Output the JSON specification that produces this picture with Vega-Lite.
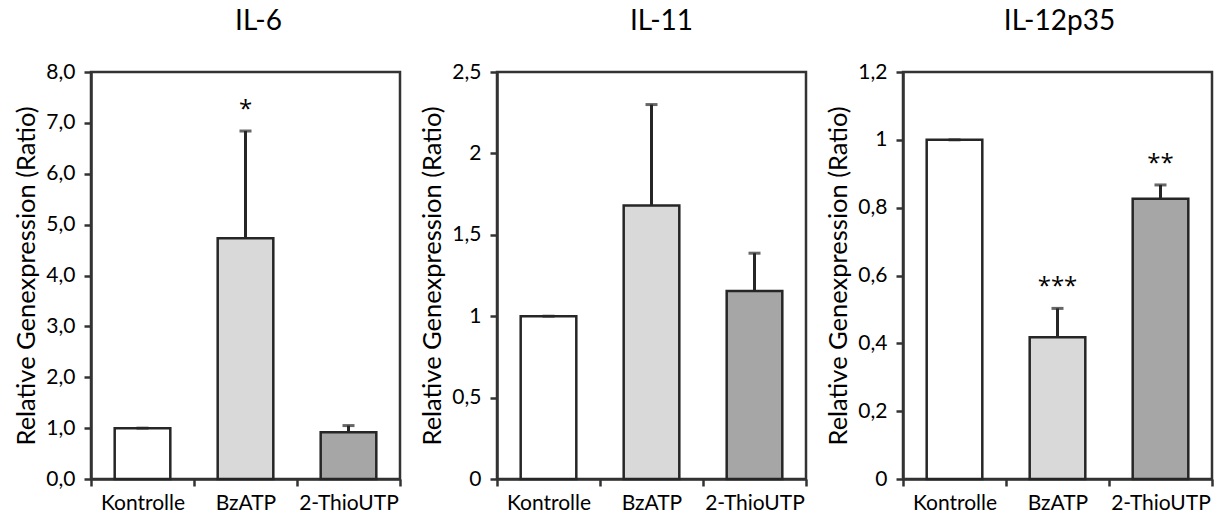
{
  "$schema": "https://vega.github.io/schema/vega-lite/v6.json",
  "padding": {"left": 13, "top": 6, "right": 5, "bottom": 0},
  "spacing": 97,
  "bounds": "flush",
  "datasets": {
    "d": [
      {"panel": "IL-6", "group": "Kontrolle", "value": 1.0, "upper": 1.0, "star": ""},
      {"panel": "IL-6", "group": "BzATP", "value": 4.73, "upper": 6.84, "star": "*"},
      {"panel": "IL-6", "group": "2-ThioUTP", "value": 0.92, "upper": 1.05, "star": ""},
      {"panel": "IL-11", "group": "Kontrolle", "value": 1.0, "upper": 1.0, "star": ""},
      {"panel": "IL-11", "group": "BzATP", "value": 1.68, "upper": 2.30, "star": ""},
      {"panel": "IL-11", "group": "2-ThioUTP", "value": 1.155, "upper": 1.387, "star": ""},
      {"panel": "IL-12p35", "group": "Kontrolle", "value": 1.0, "upper": 1.0, "star": ""},
      {"panel": "IL-12p35", "group": "BzATP", "value": 0.418, "upper": 0.503, "star": "***"},
      {"panel": "IL-12p35", "group": "2-ThioUTP", "value": 0.826, "upper": 0.867, "star": "**"}
    ]
  },
  "config": {
    "font": "Lato",
    "view": {"stroke": "#333333", "strokeWidth": 2.5},
    "axis": {
      "domainColor": "#333333", "domainWidth": 2.5,
      "tickColor": "#333333", "tickWidth": 2.5, "tickSize": 7,
      "labelColor": "#000000", "labelFont": "Lato", "labelFontSize": 21,
      "titleFont": "Lato", "titleFontSize": 25.5, "titleFontWeight": "normal", "titleColor": "#000000",
      "grid": false
    },
    "title": {"font": "Lato", "fontSize": 28, "fontWeight": "normal", "color": "#000000", "offset": 25}
  },
  "hconcat": [
    {
      "title": {"text": "IL-6", "dx": 13},
      "width": 309, "height": 407,
      "data": {"name": "d"},
      "transform": [{"filter": "datum.panel === 'IL-6'"}],
      "encoding": {
        "x": {"field": "group", "type": "nominal", "sort": ["Kontrolle", "BzATP", "2-ThioUTP"],
              "scale": {"paddingInner": 0, "paddingOuter": 0},
              "axis": {"title": null, "labelAngle": 0, "tickBand": "extent", "labelPadding": 6}}
      },
      "layer": [
        {"mark": {"type": "bar", "width": {"band": 0.54}, "stroke": "#262626", "strokeWidth": 2.5},
         "encoding": {
           "y": {"field": "value", "type": "quantitative", "scale": {"domain": [0, 8], "nice": false},
                 "axis": {"title": "Relative Genexpression (Ratio)", "values": [0,1,2,3,4,5,6,7,8],
                          "labelExpr": "replace(format(datum.value, '.1f'), '.', ',')", "labelPadding": 9, "titlePadding": 6}},
           "fill": {"field": "group", "type": "nominal", "legend": null,
                    "scale": {"domain": ["Kontrolle", "BzATP", "2-ThioUTP"], "range": ["#ffffff", "#d9d9d9", "#a6a6a6"]}}
         }},
        {"mark": {"type": "rule", "stroke": "#262626", "strokeWidth": 3},
         "encoding": {"y": {"field": "value", "type": "quantitative"}, "y2": {"field": "upper"}}},
        {"mark": {"type": "tick", "color": "#262626", "thickness": 3, "size": 12},
         "encoding": {"y": {"field": "upper", "type": "quantitative"}}},
        {"mark": {"type": "text", "dy": -14, "font": "Open Sans", "fontSize": 24, "baseline": "alphabetic", "color": "#000000"},
         "encoding": {"y": {"field": "upper", "type": "quantitative"}, "text": {"field": "star"}}}
      ]
    },
    {
      "title": {"text": "IL-11", "dx": 10},
      "width": 309, "height": 407,
      "data": {"name": "d"},
      "transform": [{"filter": "datum.panel === 'IL-11'"}],
      "encoding": {
        "x": {"field": "group", "type": "nominal", "sort": ["Kontrolle", "BzATP", "2-ThioUTP"],
              "scale": {"paddingInner": 0, "paddingOuter": 0},
              "axis": {"title": null, "labelAngle": 0, "tickBand": "extent", "labelPadding": 6}}
      },
      "layer": [
        {"mark": {"type": "bar", "width": {"band": 0.54}, "stroke": "#262626", "strokeWidth": 2.5},
         "encoding": {
           "y": {"field": "value", "type": "quantitative", "scale": {"domain": [0, 2.5], "nice": false},
                 "axis": {"title": "Relative Genexpression (Ratio)", "values": [0,0.5,1,1.5,2,2.5],
                          "labelExpr": "replace(format(datum.value, '.1~f'), '.', ',')", "labelPadding": 9, "titlePadding": 6}},
           "fill": {"field": "group", "type": "nominal", "legend": null,
                    "scale": {"domain": ["Kontrolle", "BzATP", "2-ThioUTP"], "range": ["#ffffff", "#d9d9d9", "#a6a6a6"]}}
         }},
        {"mark": {"type": "rule", "stroke": "#262626", "strokeWidth": 3},
         "encoding": {"y": {"field": "value", "type": "quantitative"}, "y2": {"field": "upper"}}},
        {"mark": {"type": "tick", "color": "#262626", "thickness": 3, "size": 12},
         "encoding": {"y": {"field": "upper", "type": "quantitative"}}},
        {"mark": {"type": "text", "dy": -14, "font": "Open Sans", "fontSize": 24, "baseline": "alphabetic", "color": "#000000"},
         "encoding": {"y": {"field": "upper", "type": "quantitative"}, "text": {"field": "star"}}}
      ]
    },
    {
      "title": {"text": "IL-12p35", "dx": 2},
      "width": 309, "height": 407,
      "data": {"name": "d"},
      "transform": [{"filter": "datum.panel === 'IL-12p35'"}],
      "encoding": {
        "x": {"field": "group", "type": "nominal", "sort": ["Kontrolle", "BzATP", "2-ThioUTP"],
              "scale": {"paddingInner": 0, "paddingOuter": 0},
              "axis": {"title": null, "labelAngle": 0, "tickBand": "extent", "labelPadding": 6}}
      },
      "layer": [
        {"mark": {"type": "bar", "width": {"band": 0.54}, "stroke": "#262626", "strokeWidth": 2.5},
         "encoding": {
           "y": {"field": "value", "type": "quantitative", "scale": {"domain": [0, 1.2], "nice": false},
                 "axis": {"title": "Relative Genexpression (Ratio)", "values": [0,0.2,0.4,0.6,0.8,1,1.2],
                          "labelExpr": "replace(format(datum.value, '.1~f'), '.', ',')", "labelPadding": 9, "titlePadding": 6}},
           "fill": {"field": "group", "type": "nominal", "legend": null,
                    "scale": {"domain": ["Kontrolle", "BzATP", "2-ThioUTP"], "range": ["#ffffff", "#d9d9d9", "#a6a6a6"]}}
         }},
        {"mark": {"type": "rule", "stroke": "#262626", "strokeWidth": 3},
         "encoding": {"y": {"field": "value", "type": "quantitative"}, "y2": {"field": "upper"}}},
        {"mark": {"type": "tick", "color": "#262626", "thickness": 3, "size": 12},
         "encoding": {"y": {"field": "upper", "type": "quantitative"}}},
        {"mark": {"type": "text", "dy": -14, "font": "Open Sans", "fontSize": 24, "baseline": "alphabetic", "color": "#000000"},
         "encoding": {"y": {"field": "upper", "type": "quantitative"}, "text": {"field": "star"}}}
      ]
    }
  ]
}
